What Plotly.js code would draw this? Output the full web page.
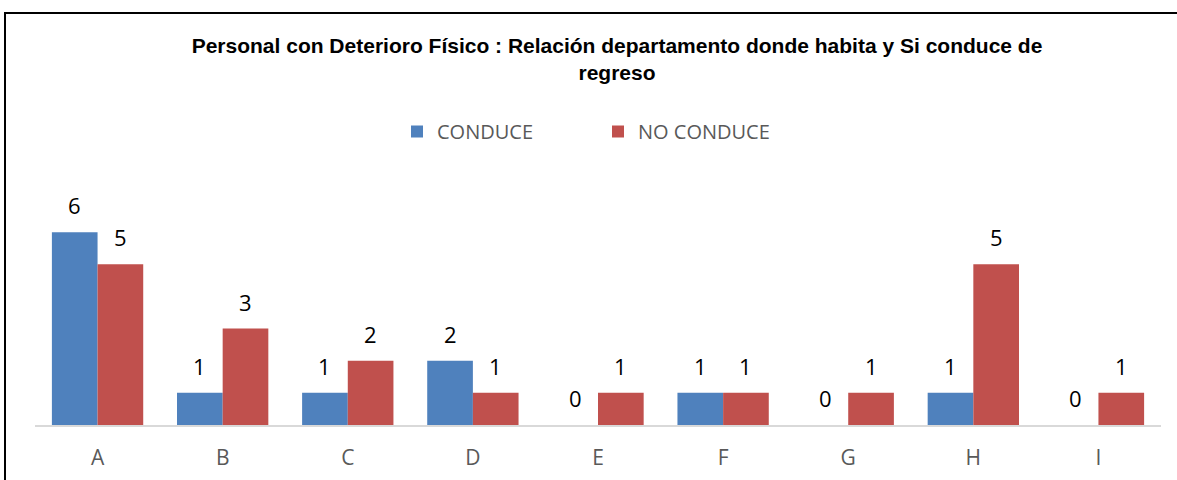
<!DOCTYPE html>
<html>
<head>
<meta charset="utf-8">
<script src="https://cdn.plot.ly/plotly-3.0.1.min.js"></script>
<style>
  html, body { margin: 0; padding: 0; background: #ffffff; overflow: hidden; }
  #frame { position: absolute; left: 4px; top: 12px; width: 1400px; height: 700px; border: 2px solid #000; box-sizing: border-box; }
  #chart { position: absolute; left: 0; top: 0; width: 1177px; height: 480px; }
</style>
</head>
<body>
<div id="frame"></div>
<div id="chart"></div>
<script>
const categories = ["A", "B", "C", "D", "E", "F", "G", "H", "I"];
const conduce = [6, 1, 1, 2, 0, 1, 0, 1, 0];
const noConduce = [5, 3, 2, 1, 1, 1, 1, 5, 1];
const seriesNames = ["CONDUCE", "NO CONDUCE"];
const titleText = "Personal con Deterioro Físico : Relación departamento donde habita y Si conduce de<br>regreso";

const blue = "#4F81BD";
const red = "#C0504D";

const traces = [
  {
    type: "bar", name: seriesNames[0], x: categories, y: conduce,
    marker: { color: blue, line: { width: 0 } }, hoverinfo: "x+y"
  },
  {
    type: "bar", name: seriesNames[1], x: categories, y: noConduce,
    marker: { color: red, line: { width: 0 } }, hoverinfo: "x+y"
  }
];

const labelFont = { family: "Open Sans", size: 22, color: "#000000" };
const annotations = [];
categories.forEach((c, i) => {
  annotations.push({ x: c, y: conduce[i], xref: "x", yref: "y", text: String(conduce[i]),
    showarrow: false, xshift: -22.8, yshift: 27, yanchor: "middle", font: labelFont });
  annotations.push({ x: c, y: noConduce[i], xref: "x", yref: "y", text: String(noConduce[i]),
    showarrow: false, xshift: 22.8, yshift: 27, yanchor: "middle", font: labelFont });
});

const layout = {
  width: 1177, height: 480,
  paper_bgcolor: "rgba(0,0,0,0)", plot_bgcolor: "rgba(0,0,0,0)",
  margin: { l: 35, r: 16, t: 200, b: 55 },
  barmode: "group", bargap: 0.27, bargroupgap: 0,
  title: {
    text: titleText,
    font: { family: "Liberation Sans, Arial, sans-serif", size: 21, color: "#000000", weight: "bold" },
    xref: "container", x: 617 / 1177, xanchor: "center",
    yref: "container", y: 1 - 53 / 480, yanchor: "top"
  },
  showlegend: true,
  legend: {
    orientation: "h", xref: "container", yref: "container",
    x: 397 / 1177, xanchor: "left", y: 1 - 112 / 480, yanchor: "top",
    font: { family: "Open Sans", size: 20, color: "#595959" },
    entrywidth: 156, entrywidthmode: "pixels",
    bgcolor: "rgba(0,0,0,0)"
  },
  xaxis: {
    type: "category", showgrid: false, zeroline: false,
    showline: true, linecolor: "#D9D9D9", linewidth: 2,
    ticks: "", ticklabelstandoff: 13,
    tickfont: { family: "Open Sans", size: 21, color: "#595959" }
  },
  yaxis: {
    range: [0, 7], visible: false, showgrid: false, zeroline: false, fixedrange: true
  },
  annotations: annotations
};

Plotly.newPlot("chart", traces, layout, { displayModeBar: false, staticPlot: true });
</script>
</body>
</html>
